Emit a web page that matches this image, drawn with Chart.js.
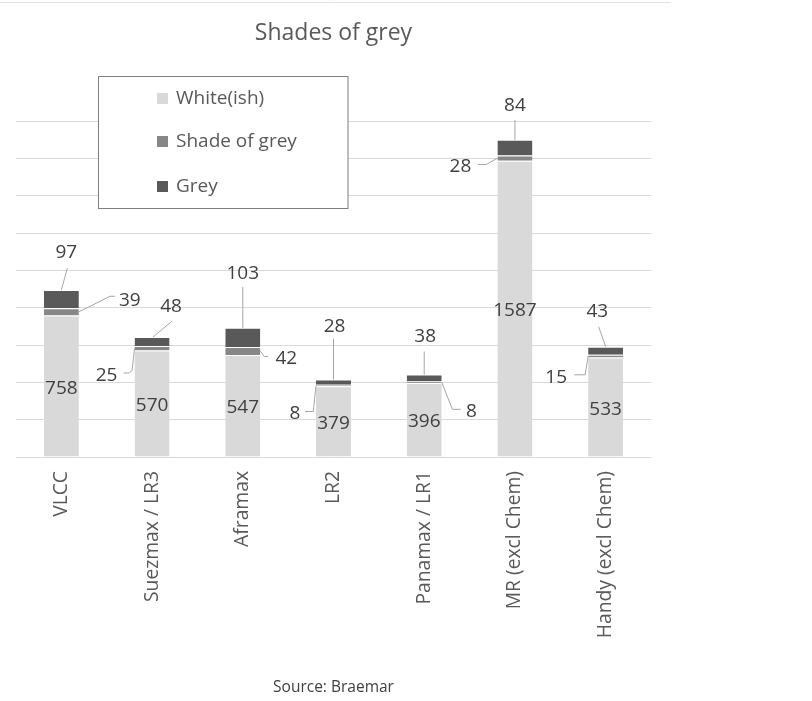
<!DOCTYPE html>
<html>
<head>
<meta charset="utf-8">
<script src="https://cdn.jsdelivr.net/npm/chart.js@4/dist/chart.umd.min.js"></script>
<style>
  html, body { margin: 0; padding: 0; background: #ffffff; }
  #wrap { position: relative; width: 812px; height: 701px; }
  canvas { display: block; }
</style>
</head>
<body>
<div id="wrap"><canvas id="c" width="812" height="701"></canvas></div>
<script>
// ---- data ----
const categories = ['VLCC', 'Suezmax / LR3', 'Aframax', 'LR2', 'Panamax / LR1', 'MR (excl Chem)', 'Handy (excl Chem)'];
const seriesNames = ['White(ish)', 'Shade of grey', 'Grey'];
const whiteish = [758, 570, 547, 379, 396, 1587, 533];
const shadeOfGrey = [39, 25, 42, 8, 8, 28, 15];
const grey = [97, 48, 103, 28, 38, 84, 43];
const yMin = 0, yMax = 1800, yStep = 200;
const titleText = 'Shades of grey';
const sourceText = 'Source: Braemar';

// ---- styles ----
const colors = ['#d9d9d9', '#878787', '#595959'];
const FONT = "'Open Sans', 'Liberation Sans', sans-serif";

// label placement (pixel offsets relative to an anchor on the bar segment)
// a: anchor ('c' centre, 'l' left edge mid, 'r' right edge mid, 't' top centre)
const labelPlacement = [
  categories.map(() => ({ a: 'c', t: [0, 1] })),
  [
    { a: 'r', path: [[0,0],[31,-15.6],[36,-15.6]], t: [51,-12.3] },
    { a: 'l', path: [[0,0],[-2.5,22],[-5,24.7],[-11,24.7]], t: [-28,26.4] },
    { a: 'r', path: [[0,0],[4,5.5],[8,5.5]], t: [26,7] },
    { a: 'l', path: [[0,0],[-2.7,26],[-11,26]], t: [-21,27] },
    { a: 'r', path: [[0,0],[10.7,27],[19,27]], t: [29.7,28.3] },
    { a: 'l', path: [[0,0],[-11,6.3],[-19.7,6.3]], t: [-37,7.3] },
    { a: 'l', path: [[0,0],[-3,18.7],[-14,18.7]], t: [-32,20.4] }
  ],
  [
    { a: 't', path: [[0,0],[6,-22]], t: [5,-39] },
    { a: 't', path: [[1,0],[19.7,-15.7]], t: [19,-31.4] },
    { a: 't', path: [[0,0],[0,-41]], t: [0,-55.5] },
    { a: 't', path: [[0,0],[0,-41]], t: [1,-54] },
    { a: 't', path: [[0,0],[0,-23]], t: [1,-38.6] },
    { a: 't', path: [[0,0],[0,-20]], t: [0,-35] },
    { a: 't', path: [[0,0],[-7,-20]], t: [-8.3,-36] }
  ]
];

const seriesData = [whiteish, shadeOfGrey, grey];

const labelsPlugin = {
  id: 'leaderLabels',
  afterDatasetsDraw(chart) {
    const ctx = chart.ctx;
    ctx.save();
    ctx.font = '19px ' + FONT;
    ctx.textAlign = 'center';
    ctx.textBaseline = 'alphabetic';
    chart.data.datasets.forEach((ds, i) => {
      const meta = chart.getDatasetMeta(i);
      meta.data.forEach((bar, j) => {
        const p = labelPlacement[i][j];
        const half = bar.width / 2;
        let ax, ay;
        const midY = (bar.y + bar.base) / 2;
        if (p.a === 'c') { ax = bar.x; ay = midY; }
        else if (p.a === 'l') { ax = bar.x - half; ay = midY; }
        else if (p.a === 'r') { ax = bar.x + half; ay = midY; }
        else { ax = bar.x; ay = bar.y; }
        if (p.path) {
          ctx.strokeStyle = '#a6a6a6';
          ctx.lineWidth = 1;
          ctx.beginPath();
          p.path.forEach((pt, k) => {
            const px = ax + pt[0], py = ay + pt[1];
            if (k === 0) ctx.moveTo(px, py); else ctx.lineTo(px, py);
          });
          ctx.stroke();
        }
        const txt = String(ds.data[j]);
        const m = ctx.measureText(txt);
        const gy = ay + p.t[1] + (m.actualBoundingBoxAscent - m.actualBoundingBoxDescent) / 2;
        ctx.fillStyle = '#404040';
        ctx.fillText(txt, ax + p.t[0], gy);
      });
    });
    ctx.restore();
  },
  afterDraw(chart) {
    const ctx = chart.ctx;
    ctx.save();
    // top rule
    ctx.strokeStyle = '#e3e3e3';
    ctx.lineWidth = 1;
    ctx.beginPath();
    ctx.moveTo(0, 2.5); ctx.lineTo(671, 2.5);
    ctx.stroke();
    // legend box
    ctx.fillStyle = '#ffffff';
    ctx.fillRect(98.5, 76.5, 249.5, 132);
    ctx.strokeStyle = '#7f7f7f';
    ctx.strokeRect(98.5, 76.5, 249.5, 132);
    const rowsY = [98.5, 141.5, 186.5];
    ctx.font = '19px ' + FONT;
    ctx.textAlign = 'left';
    ctx.textBaseline = 'middle';
    chart.data.datasets.forEach((ds, i) => {
      ctx.fillStyle = ds.backgroundColor;
      ctx.fillRect(157, rowsY[i] - 5.5, 11, 11);
      ctx.fillStyle = '#595959';
      ctx.fillText(ds.label, 176, rowsY[i]);
    });
    ctx.restore();
  }
};

new Chart(document.getElementById('c'), {
  type: 'bar',
  data: {
    labels: categories,
    datasets: seriesNames.map((name, i) => ({
      label: name,
      data: seriesData[i],
      backgroundColor: colors[i],
      borderColor: '#ffffff',
      borderWidth: { top: 1, left: 0, right: 0, bottom: 0 },
      borderSkipped: false,
      categoryPercentage: 1,
      barPercentage: 0.386
    }))
  },
  options: {
    responsive: false,
    animation: false,
    devicePixelRatio: 1,
    layout: { padding: { left: 16, right: 161, top: 0, bottom: 0 } },
    plugins: {
      legend: { display: false },
      tooltip: { enabled: false },
      title: {
        display: true,
        text: titleText,
        color: '#595959',
        font: { family: FONT, size: 23, weight: 'normal' },
        padding: { top: 19.2, bottom: 74.2 }
      },
      subtitle: {
        display: true,
        position: 'bottom',
        text: sourceText,
        color: '#404040',
        font: { family: FONT, size: 15.5, weight: 'normal' },
        padding: { top: 10, bottom: 4 }
      }
    },
    scales: {
      x: {
        stacked: true,
        grid: { display: false, drawTicks: false },
        border: { display: false },
        ticks: {
          minRotation: 90, maxRotation: 90,
          padding: 14,
          color: '#595959',
          font: { family: FONT, size: 19.3 }
        },
        afterFit(scale) { scale.height = 211.4; }
      },
      y: {
        stacked: true,
        min: yMin, max: yMax,
        grid: { color: '#d9d9d9', lineWidth: 1, drawTicks: false },
        border: { display: false },
        ticks: { display: false, stepSize: yStep },
        afterFit(scale) { scale.width = 0; }
      }
    }
  },
  plugins: [labelsPlugin]
});
</script>
</body>
</html>
